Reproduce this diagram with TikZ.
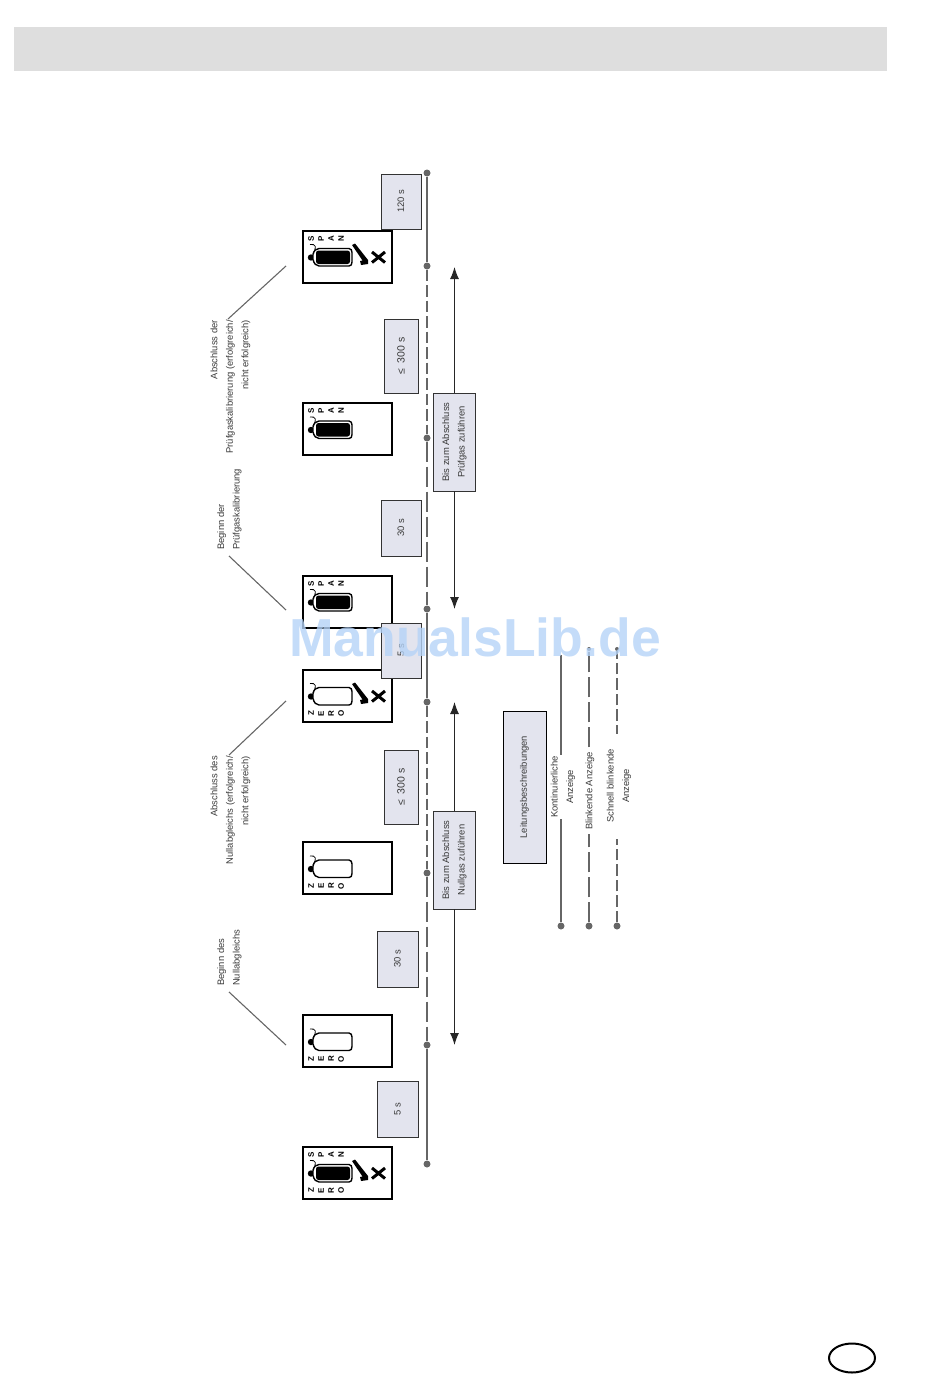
\documentclass[tikz,border=0pt]{standalone}
\usepackage{fontspec}
\setmainfont{Liberation Sans}
\usetikzlibrary{arrows.meta}
\definecolor{inkgray}{HTML}{3A3A3A}
\definecolor{linegray}{HTML}{666666}
\definecolor{boxgray}{HTML}{E3E4EE}
\definecolor{markblue}{HTML}{B5D3F7}
\tikzset{
  every node/.style={font=\fontsize{9.4}{15.5}\selectfont,text=inkgray},
  panelbox/.style={draw=black,line width=2pt,fill=white,minimum width=89pt,minimum height=52pt,inner sep=0pt},
  timebox/.style={draw=black!80,line width=.8pt,fill=boxgray,rotate=90,inner sep=0pt},
  notetext/.style={rotate=90,inner sep=0pt},
  legendtext/.style={rotate=90,inner sep=1pt,fill=white,align=center},
  dot/.style={circle,fill=linegray,minimum size=7pt,inner sep=0pt},
  steady/.style={draw=linegray,line width=1.1pt},
  blinkline/.style={draw=linegray,line width=2.8pt,dash pattern=on 20pt off 5pt},
  fastline/.style={draw=linegray,line width=2.8pt,dash pattern=on 11.5pt off 4pt},
  leader/.style={draw=linegray,line width=1.1pt},
  holdarrow/.style={->,draw=black!85,line width=1.1pt},
  letter/.style={rotate=90,inner sep=0pt,text=black,font=\fontsize{8}{9}\bfseries\selectfont},
  span letters/.pic={
    \node[letter] (-s) at (-36,-18) {S};
    \node[letter] (-p) at (-26,-18) {P};
    \node[letter] (-a) at (-16,-18) {A};
    \node[letter] (-n) at (-6,-18) {N};
  },
  zero letters/.pic={
    \node[letter] (-z) at (-36,18) {Z};
    \node[letter] (-e) at (-26,18) {E};
    \node[letter] (-r) at (-16,18) {R};
    \node[letter] (-o) at (-6,18) {O};
  },
  bottle/.pic={
    \draw[black,line width=.8pt] (-34,-3) .. controls (-30,-9) and (-31,-13) .. (-37,-12);
    \fill[black] (-36,1) circle (3.2pt);
    \draw[black,line width=1.4pt,fill=white]
      (-34,-2) .. controls (-33,-6) and (-31,-8) .. (-28,-8) -- (2,-8)
      .. controls (4,-8) and (5,-6) .. (5,-4) -- (5,5.5)
      .. controls (5,8) and (4,9.5) .. (2,9.5) -- (-28,9.5)
      .. controls (-31,9.5) and (-33,7) .. (-34,3) -- cycle;
  },
  gas fill/.pic={
    \fill[black,rounded corners=2.5pt] (-31,-6) rectangle (3,7.5);
  },
  done mark/.pic={
    \fill[black] (5,-11.5) -- (8,-13) -- (21,3.5) -- (21,7.5) -- (14,8.5) -- (13,4.5) -- (15.5,4) -- cycle;
    \draw[black,line width=3pt] (25,-4.5) -- (38,6) (38,-4.5) -- (25,6);
  },
}
\begin{document}
\begin{tikzpicture}[x=1pt,y=-1pt,>={Latex[length=12pt,width=9pt]}]
  \useasboundingbox (0,0) rectangle (950,1381);
  \fill[black!13] (14,27) rectangle (887,71);

  % time line
  \node[dot] (t0) at (427,173) {};
  \node[dot] (t1) at (427,266) {};
  \node[dot] (t2) at (427,438) {};
  \node[dot] (t3) at (427,609) {};
  \node[dot] (t4) at (427,702) {};
  \node[dot] (t5) at (427,873) {};
  \node[dot] (t6) at (427,1045) {};
  \node[dot] (t7) at (427,1164) {};
  \draw[steady] (t0) -- (t1);
  \draw[fastline] (t1) -- (t2);
  \draw[blinkline] (t2) -- (t3);
  \draw[steady] (t3) -- (t4);
  \draw[fastline] (t4) -- (t5);
  \draw[blinkline] (t5) -- (t6);
  \draw[steady] (t6) -- (t7);

  % instrument panels
  \node[panelbox] (span done) at (347,256.5) {};
  \pic (sd) at (span done) {span letters};
  \pic at (span done) {bottle};
  \pic at (span done) {gas fill};
  \pic at (span done) {done mark};
  \node[panelbox] (span wait) at (347,429) {};
  \pic (sw) at (span wait) {span letters};
  \pic at (span wait) {bottle};
  \pic at (span wait) {gas fill};
  \node[panelbox] (span start) at (347,601.5) {};
  \pic (ss) at (span start) {span letters};
  \pic at (span start) {bottle};
  \pic at (span start) {gas fill};
  \node[panelbox] (zero done) at (347,695.5) {};
  \pic (zd) at (zero done) {zero letters};
  \pic at (zero done) {bottle};
  \pic at (zero done) {done mark};
  \node[panelbox] (zero wait) at (347,868) {};
  \pic (zw) at (zero wait) {zero letters};
  \pic at (zero wait) {bottle};
  \node[panelbox] (zero start) at (347,1041) {};
  \pic (zs) at (zero start) {zero letters};
  \pic at (zero start) {bottle};
  \node[panelbox] (ready) at (347,1172.5) {};
  \pic (rs) at (ready) {span letters};
  \pic (rz) at (ready) {zero letters};
  \pic at (ready) {bottle};
  \pic at (ready) {gas fill};
  \pic at (ready) {done mark};

  % time boxes
  \node[timebox,minimum width=55pt,minimum height=40pt] (time end) at (401,201.5) {120 s};
  \node[timebox,minimum width=74pt,minimum height=34pt,font=\fontsize{10.5}{12}\selectfont] (time span max) at (401,356) {≤\ \ 300 s};
  \node[timebox,minimum width=56pt,minimum height=40pt] (time span) at (401,528) {30 s};
  \node[timebox,minimum width=55pt,minimum height=40pt] (time gap) at (401,650.5) {5 s};
  \node[timebox,minimum width=74pt,minimum height=34pt,font=\fontsize{10.5}{12}\selectfont] (time zero max) at (401,787) {≤\ \ 300 s};
  \node[timebox,minimum width=56pt,minimum height=41pt] (time zero) at (397.5,959) {30 s};
  \node[timebox,minimum width=56pt,minimum height=41pt] (time first) at (397.5,1109) {5 s};

  % hold boxes
  \coordinate (span top) at (454.5,267);
  \coordinate (span bottom) at (454.5,609);
  \coordinate (zero top) at (454.5,702);
  \coordinate (zero bottom) at (454.5,1045);
  \node[timebox,minimum width=98pt,minimum height=42pt,align=center] (hold span) at (454.5,442) {Bis zum Abschluss\\Prüfgas zuführen};
  \node[timebox,minimum width=98pt,minimum height=42pt,align=center] (hold zero) at (454.5,860) {Bis zum Abschluss\\Nullgas zuführen};
  \draw[holdarrow] (hold span.east) -- (span top);
  \draw[holdarrow] (hold span.west) -- (span bottom);
  \draw[holdarrow] (hold zero.east) -- (zero top);
  \draw[holdarrow] (hold zero.west) -- (zero bottom);

  % notes
  \node[notetext,anchor=east,align=right] (note span done) at (230.5,320)
    {Abschluss der\\Prüfgaskalibrierung (erfolgreich/\\nicht erfolgreich)};
  \node[notetext,anchor=west,align=left] (note span start) at (229.5,550)
    {Beginn der\\Prüfgaskalibrierung};
  \node[notetext,anchor=east,align=right] (note zero done) at (230.5,756)
    {Abschluss des\\Nullabgleichs (erfolgreich/\\nicht erfolgreich)};
  \node[notetext,anchor=west,align=left] (note zero start) at (229.5,986)
    {Beginn des\\Nullabgleichs};
  \coordinate (lead a) at (286,266);
  \coordinate (lead b) at (286,610);
  \coordinate (lead c) at (286,701);
  \coordinate (lead d) at (286,1045);
  \coordinate (foot a) at (228,319);
  \coordinate (foot b) at (229,556);
  \coordinate (foot c) at (229,755);
  \coordinate (foot d) at (229,992);
  \draw[leader] (foot a) -- (lead a);
  \draw[leader] (foot b) -- (lead b);
  \draw[leader] (foot c) -- (lead c);
  \draw[leader] (foot d) -- (lead d);

  % legend
  \node[timebox,minimum width=152pt,minimum height=43pt,draw=black] (legend) at (524.5,787) {Leitungsbeschreibungen};
  \coordinate (steady top) at (561,655);
  \node[dot] (steady end) at (561,926) {};
  \node[dot,minimum size=4pt] (blink top) at (589,649) {};
  \node[dot] (blink end) at (589,926) {};
  \node[dot,minimum size=4pt] (fast top) at (617,649) {};
  \node[dot] (fast end) at (617,926) {};
  \draw[steady] (steady end) -- (steady top);
  \draw[blinkline] (blink end) -- (blink top);
  \draw[fastline] (fast end) -- (fast top);
  \node[legendtext] (legend steady) at (563,787) {Kontinuierliche\\Anzeige};
  \node[legendtext,minimum width=85pt] (legend blink) at (590,791) {Blinkende Anzeige};
  \node[legendtext,minimum width=105pt] (legend fast) at (619,786) {Schnell blinkende\\Anzeige};

  \node[inner sep=0pt,opacity=.8,text=markblue,font=\fontsize{53.5}{60}\bfseries\selectfont] (watermark) at (475,637) {ManualsLib.de};
  \draw[black,line width=2pt] (852,1358) ellipse (23pt and 14.5pt);
\end{tikzpicture}
\end{document}
